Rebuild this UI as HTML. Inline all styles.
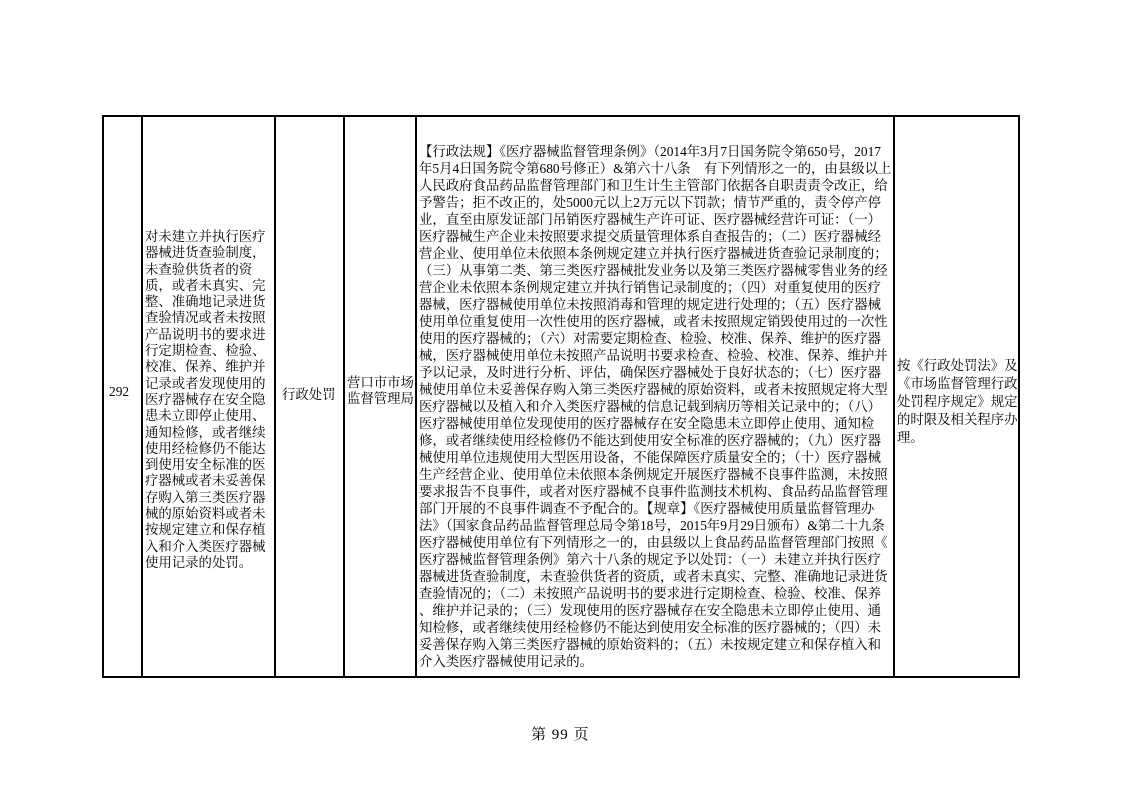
<!DOCTYPE html>
<html><head><meta charset="utf-8"><style>
body{margin:0;width:1122px;height:793px;background:#fff;position:relative;overflow:hidden;font-family:"Liberation Serif","Noto Serif CJK SC",serif;color:#000}
.v{position:absolute;background:#000;width:2px}
.h{position:absolute;background:#000;height:2px}
.t{position:absolute;font-size:13.4px;white-space:nowrap}
.m div{height:17.03px;line-height:17.03px;white-space:nowrap}
.l div{height:16.3px;line-height:16.3px;white-space:nowrap}
.r div{height:18px;line-height:18px;white-space:nowrap}
</style></head><body>
<div class="h" style="left:102px;top:115px;width:918px"></div>
<div class="h" style="left:102px;top:676px;width:918px"></div>
<div class="v" style="left:102px;top:115px;height:563px"></div>
<div class="v" style="left:141px;top:115px;height:563px"></div>
<div class="v" style="left:274px;top:115px;height:563px"></div>
<div class="v" style="left:343px;top:115px;height:563px"></div>
<div class="v" style="left:415px;top:115px;height:563px"></div>
<div class="v" style="left:893px;top:115px;height:563px"></div>
<div class="v" style="left:1018px;top:115px;height:563px"></div>

<div class="t" style="left:109px;top:384px">292</div>
<div class="t" style="left:282px;top:384px">行政处罚</div>
<div class="t l" style="left:347px;top:375px;font-size:13.4px"><div>营口市市场</div><div>监督管理局</div></div>

<div class="t l" style="left:145px;top:229px"><div>对未建立并执行医疗</div><div>器械进货查验制度，</div><div>未查验供货者的资</div><div>质，或者未真实、完</div><div>整、准确地记录进货</div><div>查验情况或者未按照</div><div>产品说明书的要求进</div><div>行定期检查、检验、</div><div>校准、保养、维护并</div><div>记录或者发现使用的</div><div>医疗器械存在安全隐</div><div>患未立即停止使用、</div><div>通知检修，或者继续</div><div>使用经检修仍不能达</div><div>到使用安全标准的医</div><div>疗器械或者未妥善保</div><div>存购入第三类医疗器</div><div>械的原始资料或者未</div><div>按规定建立和保存植</div><div>入和介入类医疗器械</div><div>使用记录的处罚。</div></div>

<div class="t m" style="left:419px;top:143px"><div>【行政法规】《医疗器械监督管理条例》（2014年3月7日国务院令第650号，2017</div><div>年5月4日国务院令第680号修正）&amp;第六十八条　有下列情形之一的，由县级以上</div><div>人民政府食品药品监督管理部门和卫生计生主管部门依据各自职责责令改正，给</div><div>予警告；拒不改正的，处5000元以上2万元以下罚款；情节严重的，责令停产停</div><div>业，直至由原发证部门吊销医疗器械生产许可证、医疗器械经营许可证：（一）</div><div>医疗器械生产企业未按照要求提交质量管理体系自查报告的；（二）医疗器械经</div><div>营企业、使用单位未依照本条例规定建立并执行医疗器械进货查验记录制度的；</div><div>（三）从事第二类、第三类医疗器械批发业务以及第三类医疗器械零售业务的经</div><div>营企业未依照本条例规定建立并执行销售记录制度的；（四）对重复使用的医疗</div><div>器械，医疗器械使用单位未按照消毒和管理的规定进行处理的；（五）医疗器械</div><div>使用单位重复使用一次性使用的医疗器械，或者未按照规定销毁使用过的一次性</div><div>使用的医疗器械的；（六）对需要定期检查、检验、校准、保养、维护的医疗器</div><div>械，医疗器械使用单位未按照产品说明书要求检查、检验、校准、保养、维护并</div><div>予以记录，及时进行分析、评估，确保医疗器械处于良好状态的；（七）医疗器</div><div>械使用单位未妥善保存购入第三类医疗器械的原始资料，或者未按照规定将大型</div><div>医疗器械以及植入和介入类医疗器械的信息记载到病历等相关记录中的；（八）</div><div>医疗器械使用单位发现使用的医疗器械存在安全隐患未立即停止使用、通知检</div><div>修，或者继续使用经检修仍不能达到使用安全标准的医疗器械的；（九）医疗器</div><div>械使用单位违规使用大型医用设备，不能保障医疗质量安全的；（十）医疗器械</div><div>生产经营企业、使用单位未依照本条例规定开展医疗器械不良事件监测，未按照</div><div>要求报告不良事件，或者对医疗器械不良事件监测技术机构、食品药品监督管理</div><div>部门开展的不良事件调查不予配合的。【规章】《医疗器械使用质量监督管理办</div><div>法》（国家食品药品监督管理总局令第18号，2015年9月29日颁布）&amp;第二十九条</div><div>医疗器械使用单位有下列情形之一的，由县级以上食品药品监督管理部门按照《</div><div>医疗器械监督管理条例》第六十八条的规定予以处罚：（一）未建立并执行医疗</div><div>器械进货查验制度，未查验供货者的资质，或者未真实、完整、准确地记录进货</div><div>查验情况的；（二）未按照产品说明书的要求进行定期检查、检验、校准、保养</div><div>、维护并记录的；（三）发现使用的医疗器械存在安全隐患未立即停止使用、通</div><div>知检修，或者继续使用经检修仍不能达到使用安全标准的医疗器械的；（四）未</div><div>妥善保存购入第三类医疗器械的原始资料的；（五）未按规定建立和保存植入和</div><div>介入类医疗器械使用记录的。</div></div>

<div class="t r" style="left:897px;top:357px"><div>按《行政处罚法》及</div><div>《市场监督管理行政</div><div>处罚程序规定》规定</div><div>的时限及相关程序办</div><div>理。</div></div>

<div class="t" style="left:531px;top:723px;font-size:15px;letter-spacing:1px">第 99 页</div>
</body></html>
